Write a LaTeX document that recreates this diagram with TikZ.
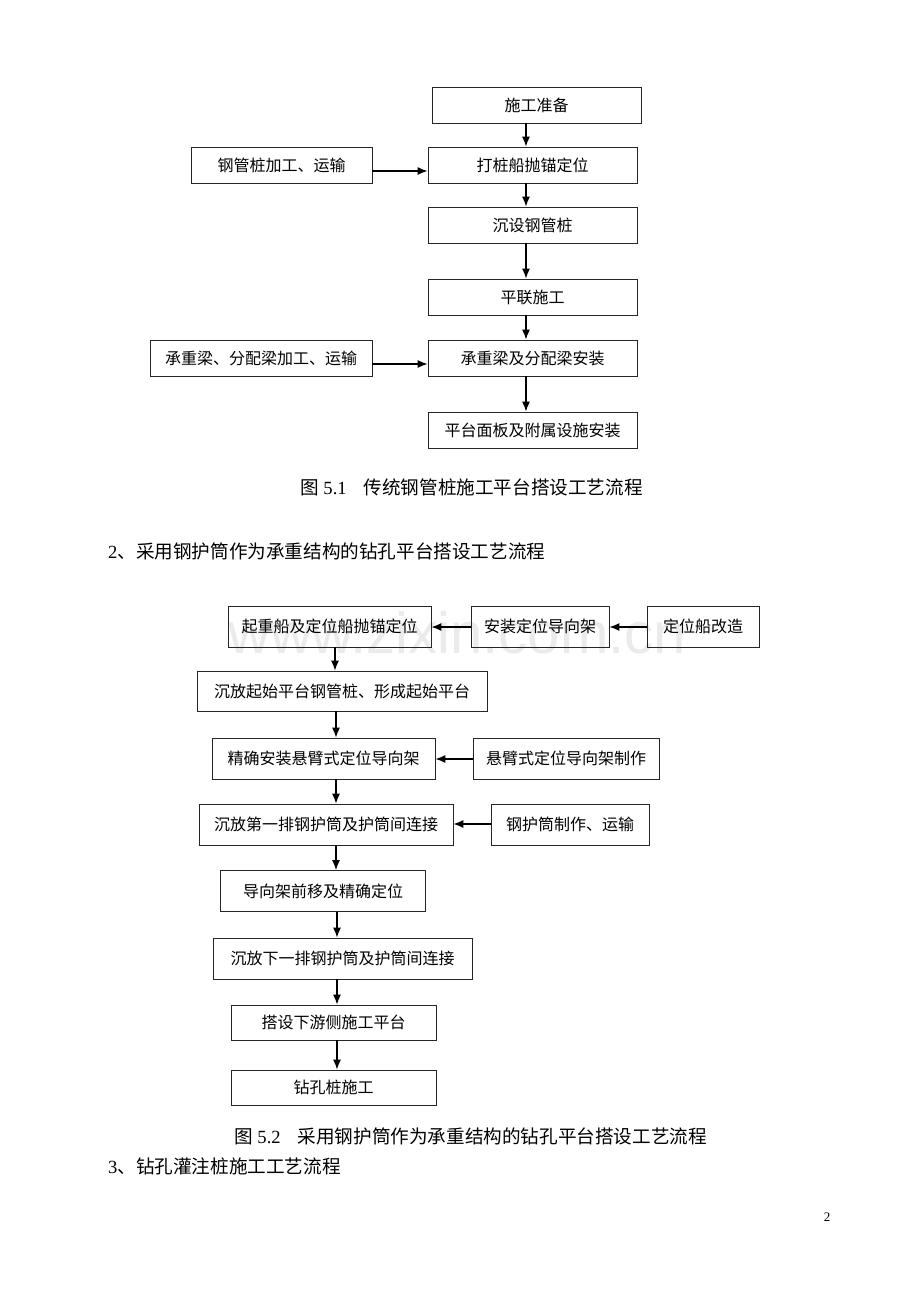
\documentclass[tikz,border=0pt]{standalone}
\usepackage{fontspec}
\setmainfont{Liberation Serif}
\newfontfamily\cjk{Noto Sans CJK SC}
\newfontfamily\wmfont{Liberation Sans}
\usetikzlibrary{arrows.meta}
\tikzset{
  box/.style={draw=black!85, line width=0.9pt, inner sep=0pt, font=\cjk\fontsize{16}{19}\selectfont},
  arr/.style={draw=black, line width=1.1pt, -{Latex[length=10pt,width=8pt]}},
  txt/.style={inner sep=0pt, font=\fontsize{18.6}{21}\selectfont}
}
\newcommand{\bx}[7]{\node[box, minimum width=#4pt, minimum height=#5pt] (#1) at (#2,#3) {#6#7};}
\begin{document}
\begin{tikzpicture}[x=1pt,y=-1pt]
\useasboundingbox[fill=white] (0,0) rectangle (920,1302);
% watermark
\node[inner sep=0pt, text=black!8, font=\wmfont\fontsize{58}{60}\selectfont] (wm) at (457,633) {www.zixin.com.cn};
% chart 1
\bx{p1}{536.5}{105}{209}{36}{施工准备}{}
\bx{p2}{532.5}{165}{209}{36}{打桩船抛锚定位}{}
\bx{s1}{281.5}{165}{181}{36}{钢管桩加工、运输}{}
\bx{p3}{532.5}{225}{209}{36}{沉设钢管桩}{}
\bx{p4}{532.5}{297}{209}{36}{平联施工}{}
\bx{p5}{532.5}{358}{209}{36}{承重梁及分配梁安装}{}
\bx{s2}{261}{358}{222}{36}{承重梁、分配梁加工、运输}{}
\bx{p6}{532.5}{430}{209}{36}{平台面板及附属设施安装}{}
\draw[arr] (526,0 |- p1.south) -- (526,0 |- p2.north);
\draw[arr] (526,0 |- p2.south) -- (526,0 |- p3.north);
\draw[arr] (526,0 |- p3.south) -- (526,0 |- p4.north);
\draw[arr] (526,0 |- p4.south) -- (526,0 |- p5.north);
\draw[arr] (526,0 |- p5.south) -- (526,0 |- p6.north);
\draw[arr] (s1.east |- 0,171) -- (p2.west |- 0,171);
\draw[arr] (s2.east |- 0,364) -- (p5.west |- 0,364);
\node[txt, anchor=west] (c1) at (300,487) {{\cjk 图} 5.1\hspace{17pt}{\cjk 传统钢管桩施工平台搭设工艺流程}};
\node[txt, anchor=west] (h2) at (108,551) {2{\cjk 、采用钢护筒作为承重结构的钻孔平台搭设工艺流程}};
% chart 2
\bx{q1}{329.5}{626.5}{203}{41}{起重船及定位船抛锚定位}{}
\bx{q1b}{540}{626.5}{138}{41}{安装定位导向架}{}
\bx{q1c}{703}{626.5}{112}{41}{定位船改造}{}
\bx{q2}{342}{691}{290}{40}{沉放起始平台钢管桩、形成起始平台}{}
\bx{q3}{323.5}{758.5}{223}{41}{精确安装悬臂式定位导向架}{}
\bx{q3b}{566}{758.5}{186}{41}{悬臂式定位导向架制作}{}
\bx{q4}{326}{824.5}{254}{41}{沉放第一排钢护筒及护筒间连接}{}
\bx{q4b}{570}{824.5}{158}{41}{钢护筒制作、运输}{}
\bx{q5}{323}{891}{205}{41}{导向架前移及精确定位}{}
\bx{q6}{342.5}{958.5}{259}{41}{沉放下一排钢护筒及护筒间连接}{}
\bx{q7}{333.5}{1022.5}{205}{35}{搭设下游侧施工平台}{}
\bx{q8}{333.5}{1087.5}{205}{35}{钻孔桩施工}{}
\draw[arr] (q1b.west |- 0,627) -- (q1.east |- 0,627);
\draw[arr] (q1c.west |- 0,627) -- (q1b.east |- 0,627);
\draw[arr] (q3b.west |- 0,759) -- (q3.east |- 0,759);
\draw[arr] (q4b.west |- 0,824) -- (q4.east |- 0,824);
\draw[arr] (335,0 |- q1.south) -- (335,0 |- q2.north);
\draw[arr] (336,0 |- q2.south) -- (336,0 |- q3.north);
\draw[arr] (336,0 |- q3.south) -- (336,0 |- q4.north);
\draw[arr] (336,0 |- q4.south) -- (336,0 |- q5.north);
\draw[arr] (337,0 |- q5.south) -- (337,0 |- q6.north);
\draw[arr] (337,0 |- q6.south) -- (337,0 |- q7.north);
\draw[arr] (337,0 |- q7.south) -- (337,0 |- q8.north);
\node[txt, anchor=west] (c2) at (234,1136) {{\cjk 图} 5.2\hspace{17pt}{\cjk 采用钢护筒作为承重结构的钻孔平台搭设工艺流程}};
\node[txt, anchor=west] (h3) at (108,1166) {3{\cjk 、钻孔灌注桩施工工艺流程}};
\node[txt, font=\fontsize{13}{15}\selectfont] (pg) at (827,1217) {2};
\end{tikzpicture}
\end{document}
